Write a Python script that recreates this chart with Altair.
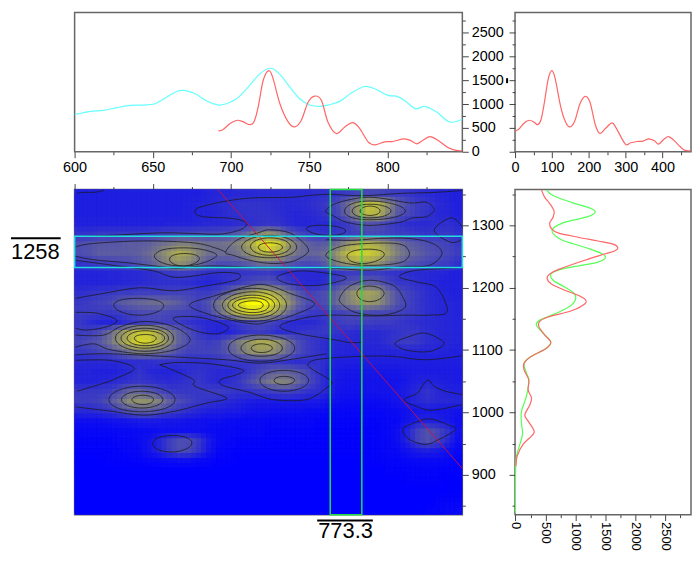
import altair as alt
import pandas as pd

FONT = "Liberation Sans"
# ---------- spectra ----------
cyan_x = [600,610,618.5,627,635.5,644,651.5,659,665.3,670,675,678,684.5,692,697,703.6,710,718.5,725.3,731,737.7,744,750.4,757,763,769.6,777,785.5,792,800.4,805.7,811,818,824,831.5,839.8,848]
cyan_y = [778,847,868,924,972,979,1007,1146,1264,1285,1243,1201,1063,979,1007,1111,1319,1632,1750,1632,1354,1111,979,951,986,1056,1229,1368,1319,1181,1167,1076,903,951,833,625,680]
red_x = [692,695,699.4,704,708,711.7,714.7,717.4,720.6,724.3,727,731.3,736.6,740.9,745,749.4,753.6,757.9,762,767.4,772.8,778,782.4,787.7,792,798.3,803.6,810,814.3,819,822.8,827.4,832.3,838.7,844,848]
red_y = [437,465,590,660,625,569,625,937,1493,1701,1528,1007,625,521,660,1042,1167,1076,625,382,521,611,486,208,146,208,215,271,243,167,243,319,243,90,28,21]
tr_x = [0,9,25,39,52,61,70,79,90,100,109,124,137,149,162,176,190,203,218,230,245,263,275,299,313,331,347,362,378,389,403,416,430,448,461,477]
tr_y = [437,465,604,660,618,569,660,1007,1528,1701,1528,937,625,521,646,1007,1160,1042,556,382,486,604,486,160,188,215,222,271,229,160,257,319,243,104,28,21]
br_red_v = [433,489,572,644,628,572,600,711,1044,1378,1628,1711,1656,1489,1156,711,572,528,600,822,1044,1167,1156,933,544,406,389,489,589,517,267,144,144,222,211,267,239,156,211,311,267,128,28,6]
br_red_y = [1357,1345,1335,1323,1313,1304,1295,1288,1281,1275,1270,1264,1259,1254,1244,1229,1222,1215,1206,1196,1188,1181,1174,1163,1153,1146,1138,1124,1113,1103,1090,1079,1068,1052,1036,1023,1012,996,986,970,962,949,930,914]
br_green_v = [517,628,933,1239,1333,1211,794,611,767,1156,1489,1378,822,600,628,822,1000,933,656,406,350,461,589,517,267,144,183,222,183,100,100,117,56,6,0]
br_green_y = [1357,1348,1337,1328,1322,1314,1304,1292,1277,1265,1252,1241,1231,1223,1212,1201,1188,1172,1158,1148,1140,1127,1113,1103,1090,1079,1063,1052,1026,1002,983,965,943,919,839]

# ---------- intensity map, 0 = blue .. 100 = yellow, top row first ----------
grid = [
[12,12,12,12,12,12,12,12,12,12, 12,12,12,14,15,15,16,16,17,17, 17,17,17,17,18,19,21,24,27,28, 27,25,23,21,19,17,15,14,13],
[12,12,12,12,12,12,12,12,12,12, 12,13,14,15,17,18,20,20,20,19, 18,17,17,18,20,23,30,42,60,76, 72,56,38,30,24,21,17,15,13],
[12,12,12,12,12,12,12,12,12,12, 12,13,14,14,16,18,19,20,20,20, 18,16,15,16,18,21,28,40,58,74, 70,52,34,28,24,20,16,15,13],
[13,13,13,13,13,13,13,13,13,14, 14,14,15,16,16,17,18,19,20,21, 20,17,15,15,16,17,20,24,30,33, 31,26,21,18,17,17,18,19,16],
[20,20,22,22,22,22,22,23,25,26, 27,27,28,28,29,30,34,42,52,58, 50,37,28,24,21,20,22,24,26,28, 28,26,24,23,21,20,21,22,19],
[30,32,34,34,34,36,36,38,42,46, 50,50,46,44,44,46,52,64,80,90, 80,62,46,38,34,36,44,56,66,70, 66,56,46,38,34,30,28,26,22],
[30,32,36,36,36,36,38,42,50,60, 68,64,52,44,42,42,46,56,68,74, 68,54,44,40,40,46,60,74,80,80, 74,62,50,42,38,33,30,28,24],
[20,22,25,25,26,28,32,36,44,52, 56,52,42,34,30,30,32,36,42,44, 40,34,30,28,30,38,50,60,64,62, 58,48,40,33,30,27,25,23,19],
[14,14,14,15,15,16,17,18,20,22, 24,23,21,19,19,20,20,21,22,23, 20,18,17,16,16,18,21,23,24,24, 24,21,20,18,17,16,15,14,13],
[14,14,14,14,15,16,17,18,19,19, 19,18,16,15,17,20,24,28,32,33, 30,24,18,16,16,20,26,32,36,38, 36,28,22,21,18,16,14,13,13],
[19,20,21,22,23,24,25,25,25,26, 26,26,24,24,28,38,50,62,72,72, 62,48,34,26,28,32,40,52,62,64, 60,44,32,26,22,18,15,14,13],
[22,24,26,28,34,38,40,42,43,40, 36,30,26,32,46,64,84,98,100,92, 76,58,40,30,28,32,42,50,58,60, 56,44,32,26,22,18,16,15,14],
[24,24,23,22,24,27,29,30,30,28, 27,26,24,28,40,56,72,84,82,72, 58,42,30,24,22,24,26,28,30,30, 28,28,26,24,22,18,16,15,14],
[22,18,15,14,16,20,24,26,26,25, 24,20,18,16,16,18,24,28,30,28, 24,18,16,16,18,22,24,26,25,25, 24,24,22,20,18,17,16,15,14],
[24,25,30,40,54,68,78,78,66,50, 38,30,22,16,14,14,18,22,24,22, 18,18,20,22,22,22,20,18,17,17, 17,18,20,22,21,18,16,15,14],
[27,30,34,44,58,72,84,82,70,54, 38,30,26,24,26,36,48,58,66,66, 58,44,30,24,20,17,16,16,16,16, 16,19,22,24,22,18,16,15,14],
[22,24,27,30,36,44,50,48,44,38, 30,26,26,26,28,34,44,54,60,60, 52,40,30,24,20,16,15,14,14,14, 14,14,15,14,14,14,14,14,13],
[16,16,16,16,17,18,18,19,20,20, 20,19,18,18,20,22,22,22,24,24, 22,20,18,19,20,16,12,12,12,12, 12,12,12,12,12,12,12,12,12],
[14,14,13,13,14,16,20,16,14,14, 15,18,20,18,16,16,18,22,28,34, 38,38,34,28,20,14,10,9,9,9, 9,9,9,10,11,11,11,11,11],
[14,14,15,16,18,20,22,20,18,17, 18,20,22,18,16,18,22,30,38,46, 52,50,40,30,22,14,9,8,8,8, 8,8,8,10,13,14,13,12,11],
[22,22,22,24,30,38,40,34,28,24, 22,22,22,24,24,22,20,20,22,24, 26,26,24,20,18,14,8,7,7,7, 8,8,9,12,16,20,16,14,13],
[24,24,26,32,42,54,58,56,50,38, 30,26,22,20,18,16,14,12,11,11, 11,11,11,10,10,8,6,5,5,5, 5,6,8,12,16,18,16,16,15],
[16,16,18,20,26,32,36,36,30,26, 22,18,15,13,12,11,10,8,7,7, 6,6,6,5,5,4,3,3,3,3, 3,4,5,7,9,10,9,9,8],
[6,6,6,7,8,9,10,11,10,9, 9,8,7,6,6,5,4,4,4,3, 3,3,3,3,2,2,2,2,2,2, 2,3,4,8,12,13,12,10,6],
[3,3,3,3,4,4,5,5,6,6, 6,6,6,5,4,4,3,3,3,2, 2,2,2,2,1,1,1,1,1,1, 2,3,6,14,26,32,28,20,8],
[2,2,2,2,3,3,5,8,14,24, 30,30,22,10,4,3,2,2,2,1, 1,1,1,1,1,1,1,1,1,1, 2,3,6,14,26,32,26,16,6],
[1,1,1,1,2,3,4,8,14,24, 30,28,20,9,3,2,1,1,1,1, 1,1,1,1,1,1,1,1,1,1, 2,3,4,7,11,13,10,7,4],
[0,0,0,1,1,1,2,3,4,5, 6,6,4,3,1,1,0,0,0,0, 0,0,0,0,0,0,0,0,0,1, 1,2,2,3,4,4,4,3,2],
[0,0,0,0,0,0,0,0,0,0, 0,0,0,0,0,0,0,0,0,0, 0,0,0,0,0,0,0,0,0,0, 0,1,1,1,2,2,2,1,1],
[0,0,0,0,0,0,0,0,0,0, 0,0,0,0,0,0,0,0,0,0, 0,0,0,0,0,0,0,0,0,0, 0,0,0,1,1,1,1,0,0],
[0,0,0,0,0,0,0,0,0,0, 0,0,0,0,0,0,0,0,0,0, 0,0,0,0,0,0,0,0,0,0, 0,0,0,0,0,0,0,0,0],
[0,0,0,0,0,0,0,0,0,0, 0,0,0,0,0,0,0,0,0,0, 0,0,0,0,0,0,0,0,0,0, 0,0,0,0,0,0,1,2,2],
[0,0,0,0,0,0,0,0,0,0, 0,0,0,0,0,0,0,0,0,0, 0,0,0,0,0,0,0,0,0,0, 0,0,0,0,0,1,2,3,4],
]

# ---------- contour lines (wavenumber, wavenumber) ----------
closed = [
[(760.6,1323),(767,1335),(782,1344),(795,1344),(814,1336),(825,1337),(830,1325),(825,1314),(816,1312),(808,1305),(789,1300),(774,1305),(765,1316)],
[(772.7,1323),(789,1339),(811.5,1323),(789,1309)],
[(777.5,1323),(789,1334),(802.4,1323),(789,1312)],
[(782.6,1323),(789,1331),(795.4,1323),(789,1316)],
[(696.6,1257),(703.6,1276),(718.5,1289),(725,1293),(737.6,1288),(746,1273),(749.7,1260),(746,1250),(737.6,1241),(725,1239),(712,1244),(701.5,1252)],
[(706.8,1265),(725,1284),(742,1265),(725,1248)],
[(712.5,1266),(725,1280),(738,1266),(725,1252)],
[(717.4,1265),(725,1272),(733,1265),(725,1257)],
[(651,1250.5),(656.6,1261),(669.7,1264),(682.4,1261),(690.9,1252),(682.4,1240),(669.7,1234.5),(657,1239)],
[(660.7,1245.7),(669.7,1254.8),(679.8,1246.8),(669.7,1235)],
[(760.6,1252),(773.7,1268),(805.6,1271),(814,1257.4),(809.8,1241.5),(792.8,1236),(773.7,1238.8)],
[(774.2,1250.5),(785.4,1261.7),(798.1,1253.7),(785.4,1238.8)],
[(748.3,1294.7),(761,1300),(773.3,1291),(761,1284)],
[(830,1292),(840.6,1312),(848,1297),(848,1279),(840.6,1273)],
[(729.6,1217.5),(746,1227),(773.7,1216.5),(756.7,1204),(737.6,1206)],
[(769.9,1185.6),(775.9,1202.6),(788.6,1212),(803.5,1204),(809.8,1185.6),(810.9,1167),(797,1156),(780,1160),(770.5,1175)],
[(780.5,1191),(788.6,1202.6),(798,1191),(788.6,1177.6)],
[(625,1172),(641,1183),(657,1171),(641,1156)],
[(704.7,1172),(714.2,1179),(720.6,1172),(714.2,1165)],
[(701,1172),(714,1184),(724.4,1172),(714,1160)],
[(698,1172),(714,1188),(728,1172),(714,1156)],
[(694.5,1172),(714,1193.5),(731.2,1172),(714,1151)],
[(688.8,1172),(714,1199),(735.5,1172),(714,1146)],
[(673.5,1172),(690.9,1188),(714,1204),(725,1203),(737.6,1191),(753.5,1174),(737.6,1154),(725,1146),(714,1142),(691,1153.6)],
[(663,1151),(680,1152.5),(698,1137.6),(691,1126),(676,1132)],
[(805,1111),(814,1121.7),(824.7,1127),(836.4,1111),(826.8,1097.7),(812,1100)],
[(713,1103),(719.5,1110),(726.5,1103),(719.5,1096)],
[(706.4,1103),(719.5,1117.4),(732.9,1103),(719.5,1090)],
[(698.3,1103),(719,1124),(740.8,1103),(719,1082)],
[(638.2,1119),(645.2,1124.9),(652.2,1119),(645.2,1111)],
[(633.6,1119),(645.2,1131),(657.6,1119),(645.2,1107)],
[(629.7,1119),(645.2,1135),(660.1,1119),(645.2,1103)],
[(626.1,1119),(645.2,1139.7),(663.3,1119),(645.2,1098)],
[(636.7,1020.5),(643.8,1027.5),(650.5,1020.5),(643.8,1012.6)],
[(630,1020.5),(643,1034),(656.5,1020.5),(643,1007)],
[(621.9,1020.5),(643,1042),(664.3,1020.5),(643,1001)],
[(727.6,1051.4),(733.8,1057.8),(740.8,1051.4),(733.8,1044.5)],
[(718.5,1051.4),(733.8,1067.4),(749.7,1051.4),(733.8,1033.9)],
[(649.9,950),(662.2,963),(675,951),(662.2,936.4)],
[(809.8,972.6),(816.1,982),(826.8,989.7),(838.4,980.6),(843.7,972.6),(833.1,956.7),(824.6,948.7),(814,956.7)],
]
opened = [
[(600.6,1282),(623,1284),(655,1288),(676,1287),(693,1286),(706,1293),(710,1304),(701,1311),(682,1314),(677,1321),(680,1329),(697,1339),(714,1344),(738,1345),(750,1348),(763,1350),(776,1348),(789,1348),(806,1351),(818,1352),(831,1353),(848,1356)],
[(600.6,1265.4),(612,1271),(644,1275),(676,1272),(691,1263),(696.6,1257)],
[(600.6,1250.5),(612,1245),(633.6,1240),(652.7,1234.5),(665.4,1231),(680,1234.5),(697,1234.5),(718.5,1232),(735.5,1232),(746,1232),(767,1231),(789,1228),(810,1234),(827,1236),(835,1255),(829,1271),(814,1279),(795,1279),(778,1276),(761,1277)],
[(600.6,1183),(618.7,1191),(642,1200),(663,1195),(682,1202),(701.5,1211),(706,1217.5),(703.6,1223),(691,1224),(665.4,1216.5),(650.5,1227),(629,1234.5),(600.6,1244)],
[(600.6,1160.5),(614.5,1159),(627,1148),(620.8,1137.6),(608,1132),(600.6,1135)],
[(848.5,1232.4),(835.3,1230.8),(816.2,1227),(807.7,1217.5),(818.3,1209.5),(831,1201.5),(837.4,1175),(837.4,1159),(826.8,1156),(809.8,1156),(788.6,1154.7),(763,1156),(746,1151),(731.3,1138.7),(741.9,1127),(767.4,1116),(775.9,1112),(784,1112.6)],
[(600.6,1124),(618.7,1124),(629.3,1137.6),(645.2,1146),(663.3,1137.6),(673.9,1117.4),(665.4,1101.4),(645.2,1094),(623,1100.4),(612.3,1110),(600.6,1104.6)],
[(600.7,1092.4),(623,1094),(665.4,1088.7),(697,1084.4),(718.5,1079),(739.7,1085.5),(761,1094)],
[(600.6,1083.4),(623,1083.4),(638.2,1071),(627,1055),(618.7,1047),(601.7,1034)],
[(654.4,1076.4),(665.4,1080),(686.6,1078),(707.4,1068.5),(703.6,1060.5),(693.4,1052.5),(695.1,1043),(712.1,1032),(727,1020.5),(748.2,1020.5),(761,1039),(764.1,1050),(752.4,1068.5),(749.3,1078),(756.7,1085.5),(782.2,1089.8),(803.4,1089.8),(824.6,1084.4),(847.6,1090.8)],
[(654.4,1076.4),(662.2,1068.5),(676,1052.5),(677,1041.8),(695.1,1025.9),(696.2,1020.5),(684.5,1015),(664.3,1002),(644.2,995.5),(623,1002),(600.6,1008.8)],
[(848,1028.5),(837.4,1033.8),(830,1041.8),(826.8,1051.4),(823.6,1047),(819.3,1031),(810.8,1020.5),(818.3,1010),(828.9,1003.5),(848,1012.6)],
[(601.7,1351.7),(606,1353),(612.3,1353),(618.7,1356)],
]

X0, X1 = 600, 848
Y0, Y1 = 836, 1357.5
V0, V1 = 2917, 0
BAND = (1232.4, 1282.5)
SLICE = (763.5, 783.7)
DIAG_X = [691.6, 848]
DIAG_Y = [1357.5, 910]
LABEL_Y = 1258
LABEL_X = 773.3

def cols(**k):
    return pd.DataFrame(k)

def ticks(start, stop, step):
    out, v = [], start
    while v <= stop:
        out.append(v)
        v += step
    return out

def ax(orient, vals, major, labels=True, **kw):
    test = f"datum.value % {major} !== 0"
    d = dict(orient=orient, values=vals, title=None, grid=False, domain=False,
             tickSize={"condition": {"test": test, "value": 3}, "value": 6},
             labels=labels, format="d")
    if labels:
        d["labelExpr"] = f"datum.value % {major} === 0 ? datum.label : ''"
    d.update(kw)
    return alt.Axis(**d)

W1, W2, H1, H2 = 390, 177, 140, 327
xs_main = alt.Scale(domain=[X0, X1], nice=False, zero=False)
ys_map = alt.Scale(domain=[Y0, Y1], nice=False, zero=False)
ys_spec = alt.Scale(domain=[0, V0], nice=False)
C_CY, C_RD, C_GR = "#66ffff", "#ff6666", "#55ff55"

def line(df, color, x, y, xs, ys, xa, ya):
    enc = dict(x=alt.X(x, scale=xs, axis=xa), y=alt.Y(y, scale=ys, axis=ya))
    return alt.Chart(df).mark_line(color=color, strokeWidth=1.2, interpolate="cardinal", clip=True).encode(**enc)

ya_tl = ax("right", ticks(0, 2750, 250), 500)
xa_tl = ax("bottom", ticks(600, 825, 25), 50)
tl = alt.layer(
    line(cols(x=cyan_x, y=cyan_y), C_CY, "x:Q", "y:Q", xs_main, ys_spec, xa_tl, ya_tl),
    line(cols(x=red_x, y=red_y), C_RD, "x:Q", "y:Q", xs_main, ys_spec, xa_tl, ya_tl),
).properties(width=W1, height=H1)

ya_tr = ax("left", ticks(0, 2750, 250), 500, labels=False)
xa_tr = ax("bottom", ticks(0, 450, 50), 100)
tr_scale = alt.Scale(domain=[0, 477], nice=False)
tr = alt.layer(
    line(cols(x=tr_x, y=tr_y), C_RD, "x:Q", "y:Q", tr_scale, ys_spec, xa_tr, ya_tr),
    alt.Chart(cols(a=[0])).mark_rule(color="black", strokeWidth=2).encode(
        x=alt.value(-8), y=alt.value(66), y2=alt.value(71)),
).properties(width=W2, height=H1)

nr, nc = len(grid), len(grid[0])
ya_m = ax("right", ticks(850, 1350, 50), 100)
xa_m = ax("top", ticks(600, 825, 25), 50, labels=False)
cs = alt.Scale(domain=[0, 100], range=["#0000ff", "#ffff00"], interpolate="rgb")

def cells(dx, dy):
    out = []
    for j, row in enumerate(grid):
        for i, v in enumerate(row):
            out.append(dict(x=X0 + (X1 - X0) * (i + dx) / nc, x2=X0 + (X1 - X0) * (i + dx + 1) / nc,
                            y=Y1 - (Y1 - Y0) * (j + dy) / nr, y2=Y1 - (Y1 - Y0) * (j + dy + 1) / nr, v=v))
    return pd.DataFrame(out)

def heat(dx, dy, op, stroked):
    enc = dict(x=alt.X("x:Q", scale=xs_main, axis=xa_m), x2="x2:Q",
               y=alt.Y("y:Q", scale=ys_map, axis=ya_m), y2="y2:Q",
               color=alt.Color("v:Q", scale=cs, legend=None))
    if stroked:
        enc["stroke"] = alt.Stroke("v:Q", scale=cs, legend=None)
        return alt.Chart(cells(dx, dy)).mark_rect(strokeWidth=0.7, clip=True, opacity=op).encode(**enc)
    return alt.Chart(cells(dx, dy)).mark_rect(strokeWidth=0, clip=True, opacity=op).encode(**enc)

def contour_df(items):
    rows = []
    for k, pts in enumerate(items):
        for i, (a, b) in enumerate(pts):
            rows.append(dict(id=k, i=i, x=a, y=b))
    return pd.DataFrame(rows)

def contour_layer(items, interp, tension=0):
    return alt.Chart(contour_df(items)).mark_line(
        color="#1a1a1a", strokeWidth=0.9, opacity=0.85, interpolate=interp, tension=tension, clip=True
    ).encode(x=alt.X("x:Q", scale=xs_main, axis=xa_m), y=alt.Y("y:Q", scale=ys_map, axis=ya_m),
             detail="id:N", order=alt.Order("i:Q"))

diag = alt.Chart(cols(x=DIAG_X, y=DIAG_Y)).mark_line(color="#cc1144", strokeWidth=0.9, clip=True).encode(
    x=alt.X("x:Q", scale=xs_main, axis=xa_m), y=alt.Y("y:Q", scale=ys_map, axis=ya_m))
band = alt.Chart(cols(x=[X0], x2=[X1], y=[BAND[0]], y2=[BAND[1]])).mark_rect(
    filled=False, stroke="#22dddd", strokeWidth=1.5).encode(
    x=alt.X("x:Q", scale=xs_main, axis=xa_m), x2="x2:Q",
    y=alt.Y("y:Q", scale=ys_map, axis=ya_m), y2="y2:Q")
slc = alt.Chart(cols(x=[SLICE[0]], x2=[SLICE[1]], y=[Y0], y2=[Y1])).mark_rect(
    filled=False, stroke="#22dd44", strokeWidth=1.5).encode(
    x=alt.X("x:Q", scale=xs_main, axis=xa_m), x2="x2:Q",
    y=alt.Y("y:Q", scale=ys_map, axis=ya_m), y2="y2:Q")
lab1 = alt.Chart(cols(t=[str(LABEL_Y)], y=[LABEL_Y])).mark_text(
    font=FONT, fontSize=22, align="left", baseline="middle", color="black").encode(
    x=alt.value(-64), y=alt.Y("y:Q", scale=ys_map, axis=ya_m), text="t:N")
lab2 = alt.Chart(cols(t=[str(LABEL_X)], x=[LABEL_X])).mark_text(
    font=FONT, fontSize=22, align="center", baseline="middle", color="black").encode(
    x=alt.X("x:Q", scale=xs_main, axis=xa_m), y=alt.value(344), text="t:N")
bar1 = alt.Chart(cols(a=[0])).mark_rule(color="black", strokeWidth=2).encode(
    x=alt.value(-64), x2=alt.value(-14), y=alt.value(49))
bar2 = alt.Chart(cols(a=[0])).mark_rule(color="black", strokeWidth=2).encode(
    x=alt.value(244), x2=alt.value(300), y=alt.value(333))

round_loops = [c for c in closed if len(c) == 4]
free_loops = [c for c in closed if len(c) != 4]

hm = alt.layer(
    heat(0, 0, 1, True), heat(-0.25, -0.25, 1, True), heat(0.25, -0.25, 0.5, False),
    heat(-0.25, 0.25, 0.333, False), heat(0.25, 0.25, 0.25, False),
    contour_layer(round_loops, "cardinal-closed", -0.65),
    contour_layer(free_loops, "cardinal-closed"), contour_layer(opened, "cardinal"),
    diag, band, slc, lab1, lab2, bar1, bar2,
).properties(width=W1, height=H2)

ya_br = ax("left", ticks(850, 1350, 50), 100, labels=False)
xa_br = ax("bottom", ticks(0, 2750, 250), 500, labelAngle=90, labelFontSize=13, labelPadding=1)
br_x_scale = alt.Scale(domain=[-8, 2933], nice=False)
def vline(vals, ys, color):
    return alt.Chart(cols(x=vals, y=ys, i=list(range(len(vals))))).mark_line(
        color=color, strokeWidth=1.2, interpolate="cardinal", clip=True).encode(
        x=alt.X("x:Q", scale=br_x_scale, axis=xa_br),
        y=alt.Y("y:Q", scale=ys_map, axis=ya_br), order=alt.Order("i:Q"))
br = alt.layer(vline(br_green_v, br_green_y, C_GR), vline(br_red_v, br_red_y, C_RD)).properties(width=W2, height=H2)

chart = alt.concat(tl, tr, hm, br, columns=2, spacing={"row": 38, "column": 53}, bounds="flush").properties(
    padding={"left": 1, "top": 2, "right": 0, "bottom": 0},
    background="white",
).configure_view(stroke="#666666", strokeWidth=1.5).configure_axis(
    labelFont=FONT, labelFontSize=14.5, labelColor="black", tickColor="#444444",
    labelPadding=3, labelOverlap=False, labelFlush=False,
)

chart.save("out.html", embed_options={"renderer": "svg", "actions": False})
